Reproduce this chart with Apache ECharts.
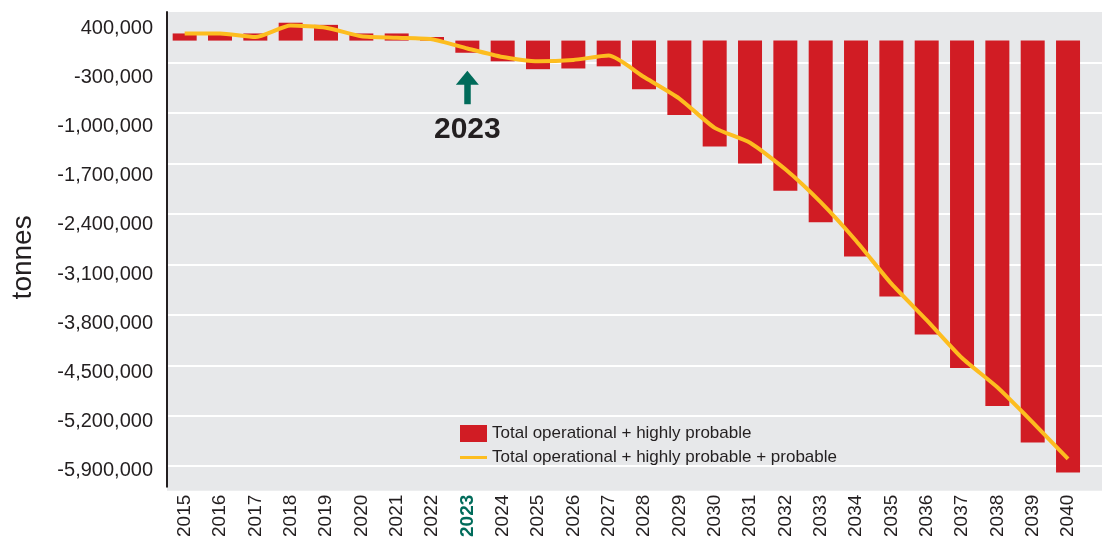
<!DOCTYPE html>
<html>
<head>
<meta charset="utf-8">
<script src="https://cdn.jsdelivr.net/npm/echarts@6/dist/echarts.min.js"></script>
<style>
  html, body { margin: 0; padding: 0; background: #ffffff; }
  #chart { width: 1102px; height: 540px; }
</style>
</head>
<body>
<div id="chart"></div>
<script>
const years = ['2015','2016','2017','2018','2019','2020','2021','2022','2023','2024','2025','2026','2027',
  '2028','2029','2030','2031','2032','2033','2034','2035','2036','2037','2038','2039','2040'];

// Total operational + highly probable (bars), tonnes
const operationalHighlyProbable = [100000, 100000, 100000, 250000, 220000, 100000, 100000, 50000,
  -170000, -290000, -400000, -390000, -360000, -680000, -1040000, -1480000, -1720000, -2100000,
  -2540000, -3020000, -3580000, -4110000, -4580000, -5110000, -5620000, -6040000];

// Total operational + highly probable + probable (line), tonnes
const withProbable = [100000, 100000, 50000, 210000, 180000, 60000, 40000, 20000,
  -110000, -230000, -290000, -270000, -210000, -510000, -810000, -1220000, -1430000, -1800000,
  -2260000, -2800000, -3400000, -3910000, -4440000, -4850000, -5340000, -5850000];

// Y-axis tick labels
const yTicks = [400000, -300000, -1000000, -1700000, -2400000, -3100000, -3800000,
  -4500000, -5200000, -5900000];

const Y_MAX = 400000;
const Y_MIN = -6240000;
// the printed labels in the source sit slightly below their gridlines; a label-only axis reproduces that
const LABEL_MAX = 633000;
const LABEL_MIN = -6129000;
const highlightYear = '2023';

const FONT = "'Liberation Sans', Arial, sans-serif";
const TXT = '#231f20';

const chart = echarts.init(document.getElementById('chart'), null, { renderer: 'canvas' });

const option = {
  animation: false,
  textStyle: { fontFamily: FONT },
  grid: [
    { left: 167, right: 16.3, top: 12, bottom: 49.3, containLabel: false },
    { left: 167, right: 0, top: 12, bottom: 49.3, show: true, backgroundColor: '#e7e8ea', borderWidth: 0, z: -1 }
  ],
  legend: {
    orient: 'vertical',
    left: 455,
    top: 420,
    itemWidth: 27,
    itemHeight: 17,
    itemGap: 7,
    textStyle: { fontSize: 17, color: TXT, fontFamily: FONT },
    data: [
      { name: 'Total operational + highly probable', icon: 'rect' },
      { name: 'Total operational + highly probable + probable',
        icon: 'path://M0,0 M27,17 M0,7 L27,7 L27,10 L0,10 Z' }
    ]
  },
  xAxis: [
    {
      type: 'category',
      gridIndex: 0,
      data: years,
      axisLine: { show: false },
      axisTick: { show: false },
      axisLabel: {
        rotate: 90,
        margin: 8,
        fontSize: 19,
        color: TXT,
        fontFamily: FONT,
        interval: 0,
        formatter: v => v === highlightYear ? '{hl|' + v + '}' : v,
        rich: { hl: { fontSize: 19, fontWeight: 'bold', color: '#006b5a', fontFamily: FONT } }
      }
    },
    {
      type: 'value',
      gridIndex: 1,
      min: 0, max: 1,
      show: false
    }
  ],
  yAxis: [
    {
      type: 'value',
      gridIndex: 0,
      min: Y_MIN,
      max: Y_MAX,
      name: 'tonnes',
      nameLocation: 'middle',
      nameGap: 130,
      nameTextStyle: { fontSize: 28, color: TXT, fontFamily: FONT, padding: [0, 16, 0, 0] },
      axisLine: { show: true, lineStyle: { color: TXT, width: 2 } },
      axisTick: { show: false },
      splitLine: { show: false },
      axisLabel: { show: false }
    },
    {
      type: 'value',
      gridIndex: 1,
      min: Y_MIN,
      max: Y_MAX,
      axisLine: { show: false },
      axisLabel: { show: false },
      axisTick: { show: false, customValues: yTicks.filter(v => v < Y_MAX) },
      splitLine: { show: true, customValues: yTicks.filter(v => v < Y_MAX), lineStyle: { color: '#ffffff', width: 2 } }
    },
    {
      type: 'value',
      gridIndex: 0,
      position: 'left',
      min: LABEL_MIN,
      max: LABEL_MAX,
      axisLine: { show: false },
      axisTick: { show: false, customValues: yTicks },
      splitLine: { show: false },
      axisLabel: {
        customValues: yTicks,
        margin: 14,
        fontSize: 20,
        color: TXT,
        fontFamily: FONT,
        formatter: v => Number(v).toLocaleString('en-US')
      }
    }
  ],
  series: [
    {
      name: 'Total operational + highly probable',
      type: 'bar',
      xAxisIndex: 0,
      yAxisIndex: 0,
      data: operationalHighlyProbable,
      barWidth: 24,
      itemStyle: { color: '#d11c24' },
      z: 2,
      markLine: {
        silent: true,
        animation: false,
        symbol: ['none', 'triangle'],
        symbolSize: [23, 14],
        lineStyle: { color: '#006b5a', width: 6.5, type: 'solid' },
        label: { show: false },
        data: [[
          { coord: [highlightYear, -890000] },
          { coord: [highlightYear, -520000] }
        ]]
      },
      markPoint: {
        silent: true,
        animation: false,
        symbol: 'circle',
        symbolSize: 1,
        itemStyle: { color: 'rgba(0,0,0,0)' },
        label: {
          show: true,
          position: 'inside',
          formatter: highlightYear,
          fontSize: 30,
          fontWeight: 'bold',
          color: TXT,
          fontFamily: FONT
        },
        data: [{ coord: [highlightYear, -1250000] }]
      }
    },
    {
      name: 'Total operational + highly probable + probable',
      type: 'line',
      xAxisIndex: 0,
      yAxisIndex: 0,
      data: withProbable,
      smooth: 0.2,
      symbol: 'none',
      lineStyle: { color: '#fdbd1f', width: 4 },
      itemStyle: { color: '#fdbd1f' },
      z: 3
    }
  ]
};

chart.setOption(option);
</script>
</body>
</html>
